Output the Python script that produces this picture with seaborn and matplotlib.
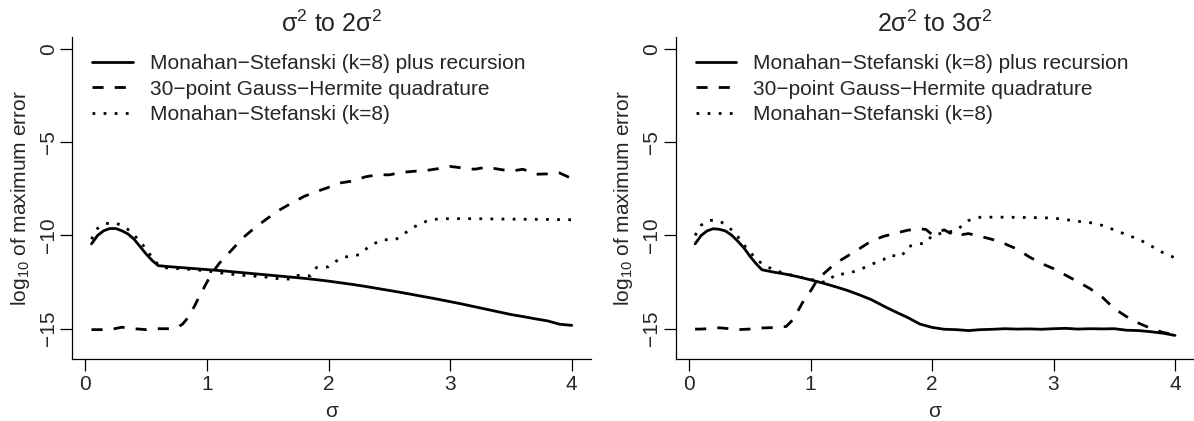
import matplotlib
matplotlib.use("Agg")
import matplotlib.pyplot as plt
import numpy as np
import pandas as pd
import seaborn as sns

# --- left panel: sigma^2 to 2 sigma^2 ---
left_rec_s = [0.05, 0.1, 0.15, 0.2, 0.25, 0.3, 0.35, 0.4, 0.45, 0.5, 0.55, 0.6,
              0.7, 0.8, 0.9, 1.0, 1.1, 1.2, 1.3, 1.4, 1.5, 1.6, 1.7, 1.8, 1.9, 2.0,
              2.1, 2.2, 2.3, 2.4, 2.5, 2.6, 2.7, 2.8, 2.9, 3.0, 3.1, 3.2, 3.3, 3.4,
              3.5, 3.6, 3.7, 3.8, 3.9, 4.0]
left_rec_y = [-10.45, -10.0, -9.75, -9.63, -9.63, -9.75, -9.92, -10.2, -10.6, -11.0, -11.35, -11.62,
              -11.68, -11.73, -11.78, -11.83, -11.88, -11.94, -12.0, -12.06, -12.12, -12.18, -12.24, -12.3, -12.37, -12.45,
              -12.54, -12.63, -12.73, -12.84, -12.95, -13.06, -13.18, -13.3, -13.42, -13.55, -13.68, -13.82, -13.96, -14.1,
              -14.24, -14.35, -14.47, -14.58, -14.76, -14.82]

left_gh_s = [0.05, 0.1, 0.2, 0.3, 0.4, 0.5, 0.6, 0.7, 0.75, 0.8, 0.85, 0.9, 0.95,
             1.0, 1.05, 1.1, 1.2, 1.3, 1.4, 1.5, 1.6, 1.7, 1.8, 1.9, 2.0, 2.1, 2.2,
             2.3, 2.4, 2.5, 2.6, 2.7, 2.8, 2.9, 3.0, 3.1, 3.2, 3.3, 3.4, 3.5, 3.6,
             3.7, 3.8, 3.9, 4.0]
left_gh_y = [-15.05, -15.05, -15.05, -14.92, -15.0, -15.05, -15.0, -15.0, -14.95, -14.75, -14.35, -13.75, -13.1,
             -12.5, -11.95, -11.5, -10.8, -10.1, -9.55, -9.07, -8.62, -8.25, -7.9, -7.65, -7.42, -7.18, -7.08,
             -6.86, -6.75, -6.75, -6.62, -6.56, -6.52, -6.42, -6.3, -6.38, -6.45, -6.34, -6.45, -6.55, -6.45,
             -6.72, -6.7, -6.65, -6.95]

left_ms_s = [0.05, 0.1, 0.15, 0.2, 0.25, 0.3, 0.35, 0.4, 0.45, 0.5, 0.55, 0.6, 0.65,
             0.7, 0.8, 0.9, 1.0, 1.1, 1.2, 1.3, 1.4, 1.5, 1.6, 1.7, 1.75, 1.8, 1.85,
             1.9, 2.0, 2.1, 2.2, 2.25, 2.35, 2.45, 2.55, 2.6, 2.7, 2.8, 2.9, 3.0,
             3.2, 3.4, 3.6, 3.8, 4.0]
left_ms_y = [-10.2, -9.62, -9.4, -9.33, -9.34, -9.47, -9.68, -9.98, -10.33, -10.74, -11.2, -11.58, -11.73,
             -11.75, -11.79, -11.84, -11.9, -12.0, -12.08, -12.14, -12.19, -12.24, -12.33, -12.34, -12.14, -12.15, -12.16,
             -11.72, -11.68, -11.2, -11.08, -11.04, -10.5, -10.23, -10.23, -10.0, -9.55, -9.25, -9.11, -9.1,
             -9.1, -9.12, -9.13, -9.14, -9.16]

# --- right panel: 2 sigma^2 to 3 sigma^2 ---
right_rec_s = [0.05, 0.1, 0.15, 0.2, 0.25, 0.3, 0.35, 0.4, 0.45, 0.5, 0.55, 0.6,
               0.7, 0.8, 0.9, 1.0, 1.1, 1.2, 1.3, 1.4, 1.5, 1.6, 1.7, 1.8, 1.9, 2.0,
               2.1, 2.2, 2.3, 2.4, 2.5, 2.6, 2.7, 2.8, 2.9, 3.0, 3.1, 3.2, 3.3, 3.4,
               3.5, 3.6, 3.7, 3.8, 3.9, 4.0]
right_rec_y = [-10.45, -10.0, -9.75, -9.64, -9.67, -9.76, -9.98, -10.3, -10.65, -11.1, -11.5, -11.84,
               -11.97, -12.08, -12.22, -12.38, -12.55, -12.74, -12.94, -13.18, -13.44, -13.78, -14.1, -14.4, -14.75, -14.93,
               -15.03, -15.05, -15.1, -15.05, -15.03, -15.0, -15.02, -15.01, -15.03, -15.0, -14.98, -15.02, -15.0, -15.01,
               -15.0, -15.08, -15.1, -15.16, -15.24, -15.36]

right_gh_s = [0.05, 0.1, 0.2, 0.25, 0.3, 0.4, 0.5, 0.6, 0.7, 0.8, 0.85, 0.9, 0.95,
              1.0, 1.05, 1.1, 1.2, 1.3, 1.4, 1.5, 1.6, 1.7, 1.8, 1.9, 1.95, 2.0,
              2.1, 2.15, 2.2, 2.25, 2.3, 2.4, 2.5, 2.6, 2.7, 2.8, 2.9, 3.0, 3.1,
              3.2, 3.3, 3.4, 3.5, 3.6, 3.7, 3.8, 3.9, 4.0]
right_gh_y = [-15.02, -15.02, -14.98, -14.95, -14.98, -15.05, -15.02, -14.96, -14.94, -14.88, -14.55, -14.0, -13.42,
              -12.98, -12.45, -12.1, -11.52, -11.12, -10.72, -10.3, -10.05, -9.88, -9.72, -9.64, -9.68, -9.95,
              -9.7, -9.88, -9.78, -9.95, -9.9, -10.05, -10.22, -10.45, -10.73, -11.15, -11.5, -11.78, -12.13,
              -12.48, -12.85, -13.3, -13.92, -14.35, -14.7, -14.98, -15.2, -15.32]

right_ms_s = [0.05, 0.1, 0.15, 0.2, 0.25, 0.3, 0.35, 0.4, 0.45, 0.5, 0.55, 0.6,
              0.7, 0.8, 0.9, 1.0, 1.1, 1.15, 1.2, 1.3, 1.4, 1.5, 1.6, 1.65, 1.7,
              1.75, 1.8, 1.9, 1.95, 2.0, 2.1, 2.2, 2.25, 2.3, 2.4, 2.5, 2.6, 2.7,
              2.8, 2.9, 3.0, 3.1, 3.2, 3.3, 3.4, 3.5, 3.6, 3.7, 3.8, 3.9, 4.0]
right_ms_y = [-10.0, -9.45, -9.22, -9.18, -9.22, -9.42, -9.7, -10.05, -10.5, -10.85, -11.28, -11.5,
              -11.87, -12.05, -12.22, -12.35, -12.5, -12.45, -12.1, -12.05, -11.85, -11.55, -11.3, -11.05, -11.1,
              -11.12, -10.6, -10.45, -10.4, -10.0, -9.85, -9.75, -9.45, -9.2, -9.02, -9.02, -9.02, -9.03,
              -9.04, -9.05, -9.07, -9.15, -9.24, -9.31, -9.46, -9.7, -9.96, -10.2, -10.55, -10.92, -11.2]

labels = ["Monahan\u2212Stefanski (k=8) plus recursion",
          "30\u2212point Gauss\u2212Hermite quadrature",
          "Monahan\u2212Stefanski (k=8)"]
titles = [r"$\mathregular{\sigma^2}$ to $\mathregular{2\sigma^2}$",
          r"$\mathregular{2\sigma^2}$ to $\mathregular{3\sigma^2}$"]

sns.set_style("ticks")
plt.rcParams["font.family"] = ["Liberation Sans", "DejaVu Sans"]
plt.rcParams["mathtext.fontset"] = "custom"
plt.rcParams["mathtext.rm"] = "Liberation Sans"
plt.rcParams["mathtext.it"] = "Liberation Sans:italic"
plt.rcParams["mathtext.bf"] = "Liberation Sans:bold"

fs = 15
fig = plt.figure(figsize=(11.94, 4.21), dpi=100)
ax1 = fig.add_axes([0.06055, 0.14656, 0.43442, 0.76556])
ax2 = fig.add_axes([0.56608, 0.14656, 0.43410, 0.76556])

panels = [
    (ax1, [(left_rec_s, left_rec_y), (left_gh_s, left_gh_y), (left_ms_s, left_ms_y)]),
    (ax2, [(right_rec_s, right_rec_y), (right_gh_s, right_gh_y), (right_ms_s, right_ms_y)]),
]
styles = ["-", (0, (4, 4)), (0, (1, 3))]
lw = 2.0

for i, (ax, series) in enumerate(panels):
    for (s, y), ls, lab in zip(series, styles, labels):
        df = pd.DataFrame({"sigma": s, "err": y})
        sns.lineplot(data=df, x="sigma", y="err", ax=ax, color="black",
                     linestyle=ls, linewidth=lw, label=lab, estimator=None,
                     sort=False)
    ax.set_xlim(-0.108, 4.158)
    ax.set_ylim(-16.64, 0.64)
    ax.set_xticks([0, 1, 2, 3, 4])
    ax.set_yticks([0, -5, -10, -15])
    ax.set_yticklabels(["0", "\u22125", "\u221210", "\u221215"])
    ax.tick_params(axis="both", labelsize=fs, length=8.5, width=0.9,
                   color="black", direction="out")
    ax.tick_params(axis="x", pad=3)
    ax.tick_params(axis="y", pad=2)
    for t in ax.get_yticklabels():
        t.set_rotation(90)
        t.set_va("center")
    for side in ["top", "right"]:
        ax.spines[side].set_visible(False)
    for side in ["left", "bottom"]:
        ax.spines[side].set_linewidth(0.9)
        ax.spines[side].set_color("black")
    ax.set_xlabel("\u03c3", fontsize=fs, va="center")
    ax.xaxis.set_label_coords(0.5, -0.1635)
    ax.set_ylabel(r"$\mathregular{log_{10}}$ of maximum error", fontsize=fs, va="center")
    ax.yaxis.set_label_coords(-0.1008, 0.5)
    ax.text(0.5, 1.04, titles[i], transform=ax.transAxes, ha="center",
            va="center", fontsize=18)
    ax.legend(loc="upper left", bbox_to_anchor=(0.038, 0.947), frameon=False,
              fontsize=fs, handlelength=1.96, handletextpad=0.8,
              labelspacing=0.31, borderaxespad=0, borderpad=0)

fig.savefig("out.png", dpi=100)
